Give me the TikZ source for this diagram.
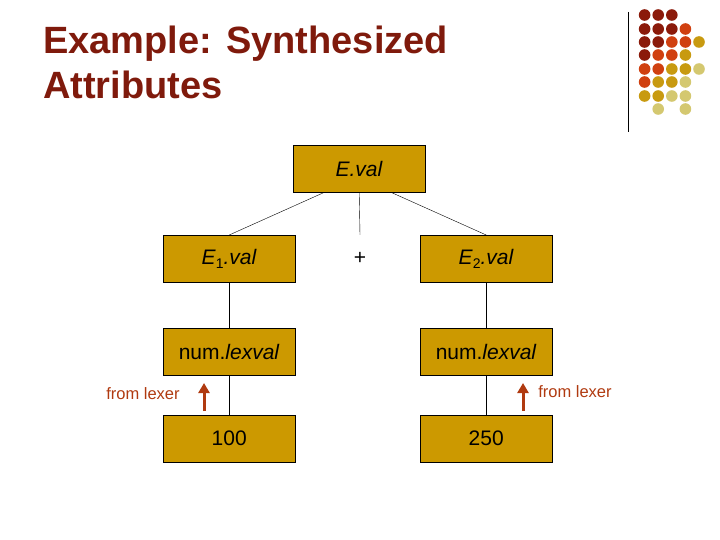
\documentclass[tikz,border=0pt]{standalone}
\usepackage{fontspec}
\setmainfont{Liberation Sans}
\usetikzlibrary{arrows.meta}
\newcommand{\mysub}[1]{\raisebox{-4pt}{\fontsize{14}{14}\selectfont\upshape #1}}
\begin{document}
\begin{tikzpicture}[x=1pt,y=-1pt,
 box/.style={draw,fill=boxgold,minimum width=132pt,minimum height=47pt,anchor=north west,inner sep=0pt,font=\fontsize{21}{24}\selectfont},
 lbl/.style={text=lexred,font=\fontsize{16.5}{18}\selectfont},
 up/.style={draw=lexred,line width=3pt,-{Triangle[length=10pt,width=11pt]}}]
\definecolor{boxgold}{HTML}{CC9900}
\definecolor{lexred}{HTML}{B03A10}
\definecolor{titred}{HTML}{7F1A0C}
\definecolor{cD}{HTML}{8B1A0A}\definecolor{cO}{HTML}{D04010}
\definecolor{cG}{HTML}{C89A10}\definecolor{cP}{HTML}{D4C870}
\useasboundingbox (0,0) rectangle (720,540);
\node[anchor=west,text=titred,font=\bfseries\fontsize{38}{45}\selectfont,align=left,inner sep=0pt] (t) at (43,62) {Example: Synthesized\\Attributes};
\draw (628,12) -- (628,132);
\foreach \row/\cols in {15/{1/D,2/D,3/D},29/{1/D,2/D,3/D,4/O},42/{1/D,2/D,3/O,4/O,5/G},55/{1/D,2/O,3/O,4/G},69/{1/O,2/O,3/G,4/G,5/P},82/{1/O,2/G,3/G,4/P},96/{1/G,2/G,3/P,4/P},109/{2/P,4/P}}
 \foreach \c/\k in \cols \fill[c\k] (631+13.6*\c,\row) circle (5.8);
\node[box] (e) at (293,145) {\textit{E.val}};
\node[box] (e1) at (163,235) {\textit{E}\mysub{1}\textit{.val}};
\node[font=\fontsize{21}{24}\selectfont,minimum height=47pt,inner sep=0pt] (plus) at (360,258.5) {+};
\node[box] (e2) at (420,235) {\textit{E}\mysub{2}\textit{.val}};
\node[box] (n1) at (163,328) {num.\textit{lexval}};
\node[box] (n2) at (420,328) {num.\textit{lexval}};
\node[box] (h) at (163,415) {100};
\node[box] (t2) at (420,415) {250};
\draw ([xshift=-35pt]e.south) -- (e1.north);
\draw (e.south) -- (plus.north);
\draw ([xshift=32pt]e.south) -- (e2.north);
\draw (e1) -- (n1); \draw (n1) -- (h);
\draw (e2) -- (n2); \draw (n2) -- (t2);
\coordinate (a1) at (204,411); \coordinate (b1) at (204,383);
\coordinate (a2) at (523,411); \coordinate (b2) at (523,383);
\draw[up] (a1) -- (b1); \draw[up] (a2) -- (b2);
\node[lbl] (f1) at (143,394) {from lexer};
\node[lbl] (f2) at (575,392) {from lexer};
\end{tikzpicture}
\end{document}
